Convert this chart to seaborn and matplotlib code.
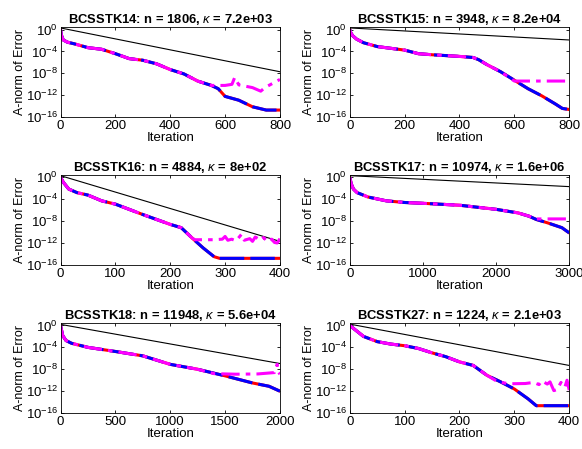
import numpy as np
import pandas as pd
import matplotlib
matplotlib.use('Agg')
import matplotlib.pyplot as plt
import seaborn as sns

sns.set_style('ticks')
plt.rcParams['font.family'] = ['Liberation Sans', 'DejaVu Sans']
plt.rcParams['mathtext.fontset'] = 'custom'
plt.rcParams['mathtext.rm'] = 'Liberation Sans'
plt.rcParams['mathtext.it'] = 'Liberation Sans:italic'
plt.rcParams['mathtext.bf'] = 'Liberation Sans:bold'
plt.rcParams['text.color'] = 'black'
plt.rcParams['axes.labelcolor'] = 'black'
plt.rcParams['xtick.color'] = 'black'
plt.rcParams['ytick.color'] = 'black'
plt.rcParams['axes.edgecolor'] = 'black'

# ---- data (log10 of A-norm error) ----
titles = ['BCSSTK14: n = 1806, $\\kappa$ = 7.2e+03',
          'BCSSTK15: n = 3948, $\\kappa$ = 8.2e+04',
          'BCSSTK16: n = 4884, $\\kappa$ = 8e+02',
          'BCSSTK17: n = 10974, $\\kappa$ = 1.6e+06',
          'BCSSTK18: n = 11948, $\\kappa$ = 5.6e+04',
          'BCSSTK27: n = 1224, $\\kappa$ = 2.1e+03']
xmax = [800, 800, 400, 3000, 2000, 400]
xticks = [[0, 200, 400, 600, 800], [0, 200, 400, 600, 800],
          [0, 100, 200, 300, 400], [0, 1000, 2000, 3000],
          [0, 500, 1000, 1500, 2000], [0, 100, 200, 300, 400]]

# black bound line: log10 value at 0 and at xmax
bound_start = [0.3, 0.3, 0.3, 0.3, 0.2, 0.25]
bound_end = [-7.7, -1.9, -11.7, -1.7, -6.95, -7.3]

# exact (red / blue) curves
k14_it = [0, 3, 10, 25, 50, 100, 150, 200, 250, 300, 350, 400, 450, 500, 550, 575, 600, 650, 700, 750, 800]
k14_err = [0, -1.0, -1.9, -2.3, -2.6, -3.3, -3.6, -4.4, -5.3, -5.6, -6.25, -7.3, -8.1, -9.4, -10.2, -10.8, -12.2, -12.9, -14.1, -14.7, -14.7]
k15_it = [0, 3, 10, 25, 50, 100, 200, 250, 300, 400, 450, 470, 500, 550, 600, 650, 700, 750, 775, 800]
k15_err = [0, -0.5, -1.1, -1.75, -2.4, -3.1, -3.75, -4.4, -4.6, -4.9, -5.1, -5.5, -6.4, -7.7, -9.25, -10.8, -12.1, -13.6, -14.4, -14.6]
k16_it = [0, 5, 15, 30, 50, 75, 100, 125, 150, 175, 200, 220, 240, 260, 280, 290, 400]
k16_err = [0, -0.9, -2.15, -2.8, -3.25, -4.3, -4.9, -5.85, -6.8, -7.7, -8.6, -9.2, -11.1, -12.9, -14.5, -14.8, -14.8]
k17_it = [0, 20, 50, 100, 250, 500, 750, 1000, 1500, 2000, 2300, 2450, 2550, 2700, 2900, 3000]
k17_err = [0, -1.2, -2.15, -2.8, -3.6, -4.3, -4.6, -4.75, -5.1, -5.85, -6.5, -7.1, -7.7, -8.3, -9.2, -10.15]
k18_it = [0, 20, 50, 100, 250, 500, 750, 1000, 1250, 1500, 1750, 1900, 2000]
k18_err = [0, -1.85, -2.75, -3.25, -4.0, -4.75, -5.55, -7.1, -8.0, -9.2, -10.5, -11.1, -12.0]
k27_it = [0, 10, 25, 50, 75, 100, 125, 150, 175, 200, 225, 250, 275, 300, 325, 340, 400]
k27_err = [0, -0.8, -2.0, -2.95, -3.4, -3.7, -4.2, -5.0, -5.7, -6.65, -7.3, -9.1, -10.3, -11.6, -13.4, -14.65, -14.65]

# finite precision (magenta) curves, after they leave the exact curve
m14_it = [550, 600, 625, 635, 650, 700, 730, 745, 800]
m14_err = [-10.2, -10.2, -10.0, -8.75, -10.1, -10.6, -11.25, -10.6, -9.1]
m15_it = [600, 800]
m15_err = [-9.4, -9.4]
m16_it = [245, 260, 280, 295, 300, 305, 312, 320, 330, 335, 345, 350, 355, 365, 370, 378, 385, 390, 395, 400]
m16_err = [-11.4, -11.4, -11.4, -11.3, -10.8, -11.5, -11.3, -11.6, -10.4, -11.5, -11.2, -11.7, -10.9, -11.5, -11.0, -11.8, -11.3, -11.9, -12.0, -11.2]
m17_it = [2550, 3000]
m17_err = [-7.6, -7.6]
m18_it = [1400, 1600, 1800, 1950, 1975, 1985, 2000]
m18_err = [-8.8, -8.9, -8.85, -8.6, -7.1, -8.5, -8.9]
m27_it = [270, 290, 320, 335, 345, 350, 360, 365, 372, 378, 385, 392, 396, 400]
m27_err = [-10.3, -10.65, -10.6, -10.4, -10.8, -10.1, -10.7, -10.3, -11.9, -11.7, -10.4, -11.3, -10.0, -11.8]

exact_it = [k14_it, k15_it, k16_it, k17_it, k18_it, k27_it]
exact_err = [k14_err, k15_err, k16_err, k17_err, k18_err, k27_err]
fp_it = [m14_it, m15_it, m16_it, m17_it, m18_it, m27_it]
fp_err = [m14_err, m15_err, m16_err, m17_err, m18_err, m27_err]

# ---- figure ----
fig = plt.figure(figsize=(5.82, 4.49), dpi=100)
lefts = [0.104, 0.601]
bottoms = [0.739, 0.410, 0.080]
w, h = 0.377, 0.200

for i in range(6):
    ax = fig.add_axes([lefts[i % 2], bottoms[i // 2], w, h])
    ex = np.array(exact_it[i])
    ey = 10.0 ** np.array(exact_err[i])
    # magenta follows exact curve until it levels off
    start = fp_it[i][0]
    keep = ex < start
    mx = np.concatenate([ex[keep], fp_it[i]])
    my = np.concatenate([ey[keep], 10.0 ** np.array(fp_err[i])])

    sns.lineplot(x=[0, xmax[i]], y=[10.0 ** bound_start[i], 10.0 ** bound_end[i]],
                 color='black', lw=0.8, ax=ax)
    sns.lineplot(x=ex, y=ey, color='red', lw=2.2, ax=ax, sort=False)
    sns.lineplot(x=ex, y=ey, color='blue', lw=2.2, ax=ax, sort=False,
                 linestyle=(0, (8, 2)))
    sns.lineplot(x=mx, y=my, color='magenta', lw=2.2, ax=ax, sort=False,
                 linestyle=(0, (6, 2, 1.5, 2)))

    ax.set_yscale('log')
    ax.set_xlim(0, xmax[i])
    ax.set_ylim(1e-16, 10 ** 0.4)
    ax.set_yticks([1e0, 1e-4, 1e-8, 1e-12, 1e-16])
    ax.set_yticklabels(['$10^{0}$', '$10^{-4}$', '$10^{-8}$', '$10^{-12}$', '$10^{-16}$'])
    ax.minorticks_off()
    ax.set_xticks(xticks[i])
    ax.tick_params(direction='in', labelsize=9.5, length=2.5, width=0.6,
                   top=True, right=True, pad=2)
    for s in ax.spines.values():
        s.set_linewidth(0.6)
        s.set_visible(True)
    ax.set_title(titles[i], fontsize=9.4, fontweight='bold', pad=3)
    ax.set_xlabel('Iteration', fontsize=9.5, labelpad=0)
    ax.set_ylabel('A-norm of Error', fontsize=9, labelpad=0)

fig.savefig('out.png', dpi=100)
